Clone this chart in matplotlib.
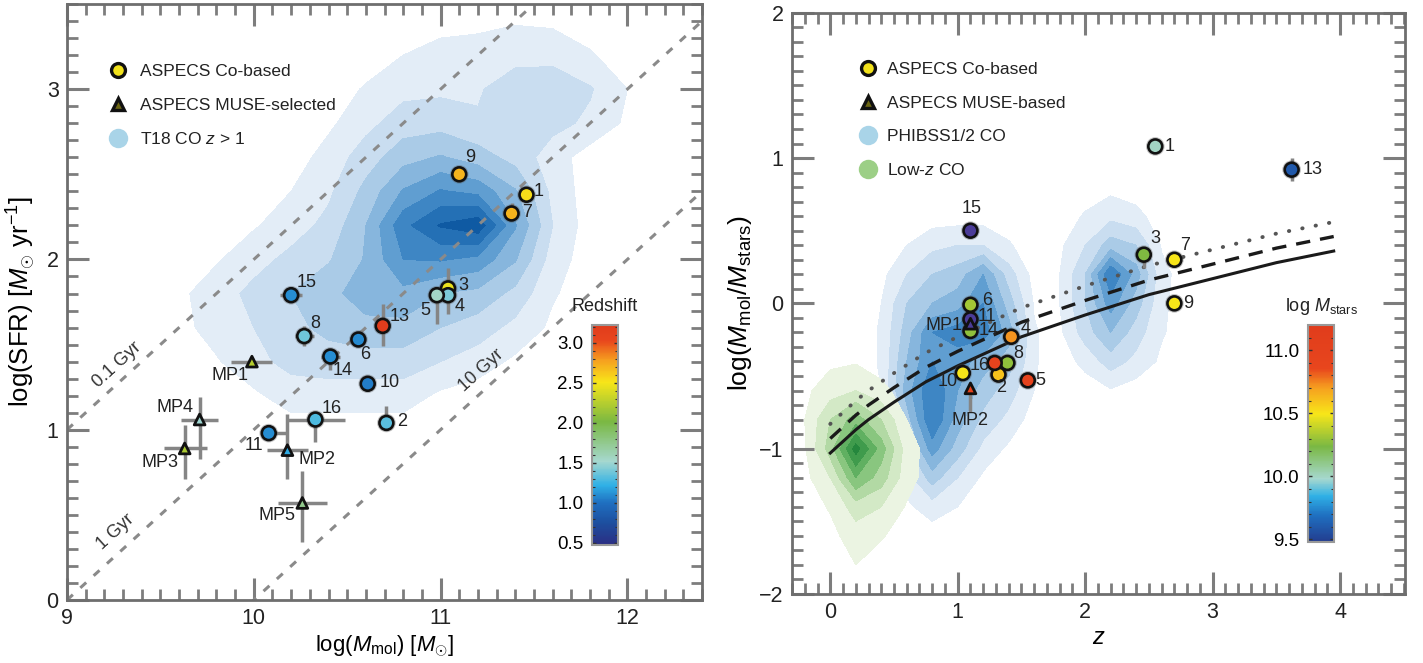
import numpy as np
import matplotlib
matplotlib.use("Agg")
import matplotlib.pyplot as plt
import matplotlib.ticker as mticker
from matplotlib.colors import LinearSegmentedColormap
from matplotlib.lines import Line2D
from matplotlib.cm import ScalarMappable
from matplotlib.colors import Normalize

plt.rcParams['font.family'] = ['Liberation Sans', 'DejaVu Sans']
plt.rcParams['mathtext.fontset'] = 'custom'
plt.rcParams['mathtext.rm'] = 'Liberation Sans'
plt.rcParams['mathtext.it'] = 'Liberation Sans:italic'
plt.rcParams['mathtext.bf'] = 'Liberation Sans:bold'
plt.rcParams['text.color'] = '#222222'

# ---------------- DATA: left panel ----------------
co_ids = ['1', '2', '3', '4', '5', '6', '7', '8', '9', '10', '11', '13', '14', '15', '16']
co_logmmol = [11.46, 10.71, 11.04, 11.04, 10.98, 10.56, 11.38, 10.27, 11.10, 10.61, 10.08, 10.69, 10.41, 10.20, 10.33]
co_logsfr = [2.38, 1.04, 1.83, 1.79, 1.79, 1.53, 2.27, 1.55, 2.50, 1.27, 0.98, 1.61, 1.43, 1.79, 1.06]
co_mmol_err_lo = [0, 0, 0, 0, 0, 0.02, 0, 0.05, 0, 0, 0, 0, 0.05, 0.06, 0.16]
co_mmol_err_hi = [0, 0, 0, 0, 0, 0.02, 0, 0.05, 0, 0, 0.10, 0, 0.05, 0.06, 0.16]
co_sfr_err_lo = [0.03, 0.03, 0.04, 0.11, 0.17, 0.02, 0.03, 0.06, 0, 0, 0.02, 0.12, 0.08, 0.03, 0.13]
co_sfr_err_hi = [0.03, 0.10, 0.12, 0.03, 0.03, 0.02, 0.06, 0.06, 0, 0, 0.02, 0.13, 0.03, 0.03, 0.03]
co_redshift = [2.54, 1.32, 2.45, 1.41, 1.55, 1.09, 2.70, 1.38, 2.70, 1.04, 1.10, 3.60, 1.10, 1.10, 1.29]
co_label_offset_L = [(9, 2), (11, 1), (11, 2), (8, -8), (-8, -11), (5, -11), (11, 1), (8, 9), (8, 12),
                     (16, 1), (-11, -9), (12, 7), (9, -10), (11, 9), (12, 8)]

mp_ids = ['MP1', 'MP2', 'MP3', 'MP4', 'MP5']
mp_logmmol = [9.99, 10.18, 9.63, 9.71, 10.26]
mp_logsfr = [1.40, 0.88, 0.89, 1.06, 0.57]
mp_mmol_err_lo = [0.11, 0.11, 0.11, 0.10, 0.13]
mp_mmol_err_hi = [0.11, 0.11, 0.12, 0.10, 0.13]
mp_sfr_err_lo = [0.02, 0.17, 0.18, 0.23, 0.23]
mp_sfr_err_hi = [0.02, 0.21, 0.14, 0.13, 0.19]
mp_redshift = [2.25, 1.20, 2.20, 1.50, 1.75]
mp_label_offset_L = [(-16, -10), (21, -7), (-18, -10), (-18, 9), (-18, -9)]

age_log_yr = [8, 9, 10]
age_labels = ['0.1 Gyr', '1 Gyr', '10 Gyr']
age_label_pos = [(9.27, 1.38), (9.26, 0.40), (11.22, 1.35)]

# T18 CO z>1 density (coarse grid)
t18_x = [9.4, 9.6, 9.8, 10.0, 10.2, 10.4, 10.6, 10.8, 11.0, 11.2, 11.4, 11.6, 11.8, 12.0, 12.2]
t18_y = [0.8, 1.0, 1.2, 1.4, 1.6, 1.8, 2.0, 2.2, 2.4, 2.6, 2.8, 3.0, 3.2, 3.4, 3.6]
t18_density = [
    [0, 0, 0, 0, 0, 0, 0, 0, 0, 0, 0, 0, 0, 0, 0],
    [0, 0, 0, 0, 0, 0, 0, 0, 0, 0, 0, 0, 0, 0, 0],
    [0, 0, 0, 0.3, 1.0, 1.0, 1.0, 1.0, 0.3, 0, 0, 0, 0, 0, 0],
    [0, 0, 0.4, 1.2, 1.8, 2.0, 2.0, 2.0, 1.5, 1.0, 0.3, 0, 0, 0, 0],
    [0, 0.2, 0.9, 1.5, 2.2, 2.8, 3.2, 3.2, 2.5, 2.0, 1.2, 0.3, 0, 0, 0],
    [0, 0.3, 1.0, 1.8, 2.5, 3.2, 4.0, 4.2, 3.5, 3.2, 2.2, 0.6, 0, 0, 0],
    [0, 0, 0.4, 1.1, 1.8, 2.4, 3.6, 5.5, 5.6, 5.2, 3.6, 1.0, 0, 0, 0],
    [0, 0, 0, 0.4, 1.0, 1.8, 3.5, 6.2, 7.6, 8.2, 4.6, 1.5, 0, 0, 0],
    [0, 0, 0, 0, 0.5, 1.3, 2.8, 4.6, 5.6, 5.2, 3.6, 1.2, 0, 0, 0],
    [0, 0, 0, 0, 0, 0.9, 2.0, 3.1, 3.6, 3.0, 2.1, 1.0, 0, 0, 0],
    [0, 0, 0, 0, 0, 0.3, 1.2, 2.0, 2.1, 1.6, 1.6, 1.8, 1.3, 0.3, 0],
    [0, 0, 0, 0, 0, 0, 0.6, 1.2, 1.3, 1.4, 2.0, 2.1, 1.6, 0.5, 0],
    [0, 0, 0, 0, 0, 0, 0, 0.5, 1.0, 1.0, 1.2, 1.2, 0.6, 0, 0],
    [0, 0, 0, 0, 0, 0, 0, 0, 0, 0.2, 0.4, 0.3, 0, 0, 0],
    [0, 0, 0, 0, 0, 0, 0, 0, 0, 0, 0, 0, 0, 0, 0],
]

# ---------------- DATA: right panel ----------------
co_z = [2.55, 1.32, 2.46, 1.42, 1.55, 1.10, 2.70, 1.39, 2.70, 1.04, 1.10, 3.62, 1.10, 1.10, 1.29]
co_logratio = [1.08, -0.49, 0.335, -0.23, -0.53, -0.01, 0.30, -0.41, 0.00, -0.48, -0.11, 0.92, -0.19, 0.50, -0.41]
co_ratio_err_lo = [0.04, 0.02, 0.09, 0.03, 0.02, 0.02, 0.03, 0.02, 0.02, 0.02, 0.02, 0.08, 0.02, 0.03, 0.02]
co_ratio_err_hi = [0.04, 0.02, 0.02, 0.03, 0.02, 0.02, 0.03, 0.02, 0.02, 0.02, 0.02, 0.08, 0.02, 0.03, 0.02]
co_logmstar = [10.0, 10.6, 10.25, 10.72, 10.95, 10.32, 10.5, 10.28, 10.5, 10.5, 9.3, 9.6, 10.28, 9.3, 10.95]
co_label_offset_R = [(10, 0), (2, -9), (8, 12), (10, 6), (9, 0), (12, 3), (8, 10), (8, 7), (10, 0),
                     (-11, -6), (12, 2), (15, 0), (13, 0), (1, 16), (-11, -2)]

mpR_ids = ['MP1', 'MP2']
mpR_z = [1.10, 1.10]
mpR_logratio = [-0.14, -0.585]
mpR_err_lo = [0.02, 0.16]
mpR_err_hi = [0.02, 0.0]
mpR_logmstar = [9.3, 10.95]
mpR_label_offset = [(-19, -1), (0, -23)]

# scaling-relation curves
curve_z = [0, 0.1, 0.2, 0.3, 0.5, 0.75, 1.0, 1.25, 1.5, 2.0, 2.5, 3.0, 3.5, 3.95]
curve_solid = [-1.03, -0.95, -0.87, -0.80, -0.68, -0.54, -0.43, -0.33, -0.23, -0.08, 0.06, 0.17, 0.28, 0.36]
curve_dashed = [-0.93, -0.85, -0.77, -0.70, -0.58, -0.44, -0.33, -0.23, -0.13, 0.02, 0.16, 0.27, 0.38, 0.46]
curve_dotted = [-0.83, -0.75, -0.67, -0.60, -0.48, -0.34, -0.23, -0.13, -0.03, 0.12, 0.26, 0.37, 0.48, 0.56]

# PHIBSS density, z~1 lobe
ph1_z = [0.2, 0.4, 0.6, 0.8, 1.0, 1.2, 1.4, 1.6, 1.8]
ph1_y = [-1.6, -1.4, -1.2, -1.0, -0.8, -0.6, -0.4, -0.2, 0.0, 0.2, 0.4, 0.6]
ph1_density = [
    [0, 0, 0, 0, 0, 0, 0, 0, 0],
    [0, 0, 0.3, 1.0, 0.5, 0, 0, 0, 0],
    [0, 0, 1.0, 3.0, 1.5, 0.3, 0, 0, 0],
    [0, 0, 2.0, 5.0, 3.0, 1.2, 0.3, 0, 0],
    [0, 0.2, 3.0, 6.5, 4.0, 2.2, 1.2, 0, 0],
    [0, 0.5, 4.0, 6.5, 4.5, 3.0, 2.0, 0.5, 0],
    [0, 0.6, 3.5, 5.5, 5.0, 4.0, 3.0, 0.6, 0],
    [0, 0.6, 3.0, 5.5, 6.0, 6.0, 4.0, 0.6, 0],
    [0, 0.5, 2.5, 3.5, 4.0, 5.5, 3.0, 0.4, 0],
    [0, 0.2, 1.5, 2.5, 3.0, 4.5, 2.0, 0.1, 0],
    [0, 0, 0.5, 1.2, 1.5, 1.5, 0.6, 0, 0],
    [0, 0, 0, 0, 0, 0, 0, 0, 0],
]
# PHIBSS density, z~2.2 lobe
ph2_z = [1.6, 1.8, 2.0, 2.2, 2.4, 2.6, 2.8]
ph2_y = [-0.8, -0.6, -0.4, -0.2, 0.0, 0.2, 0.4, 0.6, 0.8, 1.0]
ph2_density = [
    [0, 0, 0, 0, 0, 0, 0],
    [0, 0, 0, 0.4, 0, 0, 0],
    [0, 0, 0.8, 2.0, 1.2, 0.3, 0],
    [0, 0.3, 2.0, 3.5, 2.0, 0.6, 0],
    [0, 0.5, 2.5, 5.0, 3.0, 0.7, 0],
    [0, 0.5, 2.5, 6.5, 4.0, 0.8, 0],
    [0, 0.3, 1.5, 3.0, 2.5, 0.4, 0],
    [0, 0, 0.6, 1.2, 0.8, 0, 0],
    [0, 0, 0, 0.2, 0, 0, 0],
    [0, 0, 0, 0, 0, 0, 0],
]
# Low-z CO density
lowz_z = [-0.4, -0.2, 0.0, 0.2, 0.4, 0.6, 0.8]
lowz_y = [-2.0, -1.8, -1.6, -1.4, -1.2, -1.0, -0.8, -0.6, -0.4, -0.2]
lowz_density = [
    [0, 0, 0, 0, 0, 0, 0],
    [0, 0, 0, 0.5, 0, 0, 0],
    [0, 0, 0.2, 1.0, 0.6, 0, 0],
    [0, 0, 0.6, 2.0, 1.5, 0.4, 0],
    [0, 0.2, 1.5, 4.5, 3.0, 0.9, 0],
    [0, 0.4, 3.0, 7.0, 4.0, 1.0, 0],
    [0, 0.5, 2.5, 4.0, 2.5, 0.5, 0],
    [0, 0.3, 1.0, 1.5, 0.8, 0, 0],
    [0, 0, 0.3, 0.4, 0, 0, 0],
    [0, 0, 0, 0, 0, 0, 0],
]

# ---------------- STYLE ----------------
blue_levels = ['#e3edf7', '#c9ddf0', '#aacbe7', '#87b6dd', '#609ed1', '#3e86c4', '#2470b5', '#0f5aa3']
green_levels = ['#ebf4e2', '#d3e9c6', '#b2d9a4', '#89c67f', '#60b061', '#3f9b4c', '#25873d', '#137536']
levels = np.arange(0.5, 9.0, 1.0)

cmapL = LinearSegmentedColormap.from_list('zL', [
    (0.0, '#2b2e83'), (0.10, '#1d4f9f'), (0.19, '#1f6fc0'), (0.27, '#2fb0e6'), (0.38, '#a6d8cf'),
    (0.56, '#7ab843'), (0.74, '#f7e619'), (0.84, '#f6a01f'), (0.93, '#e8461d'), (1.0, '#e03c1c')])
cmapR = LinearSegmentedColormap.from_list('mR', [
    (0.0, '#233d8f'), (0.12, '#1f6fc0'), (0.21, '#2fb0e6'), (0.29, '#a6d8cf'), (0.44, '#7ab843'),
    (0.59, '#f7e619'), (0.71, '#f6a01f'), (0.80, '#e8461d'), (1.0, '#e03c1c')])
cmapR.set_under('#4b3c98')
normL = Normalize(0.47, 3.22)
normR = Normalize(9.48, 11.2)

TICK_C = '#7d7d7d'
ERR_C = '#858585'


def style_axes(ax, xmin_step, ymin_step):
    ax.xaxis.set_major_locator(mticker.MultipleLocator(1))
    ax.xaxis.set_minor_locator(mticker.MultipleLocator(xmin_step))
    ax.yaxis.set_major_locator(mticker.MultipleLocator(1))
    ax.yaxis.set_minor_locator(mticker.MultipleLocator(ymin_step))
    ax.tick_params(which='both', direction='in', top=True, right=True, color=TICK_C,
                   labelcolor='#222222', labelsize=15.5)
    ax.tick_params(which='major', length=16, width=2.2, pad=6)
    ax.tick_params(which='minor', length=8, width=2.0)
    for sp in ax.spines.values():
        sp.set_color('#6e6e6e')
        sp.set_linewidth(2)


fig = plt.figure(figsize=(14.23, 6.63), dpi=100)
axL = fig.add_axes([0.04708, 0.0950, 0.4463, 0.8989])
axR = fig.add_axes([0.5566, 0.1041, 0.4308, 0.8767])

# ================= LEFT PANEL =================
axL.set_xlim(9, 12.4)
axL.set_ylim(0, 3.5)
style_axes(axL, 0.1, 0.1)

XL, YL = np.meshgrid(t18_x, t18_y)
axL.contourf(XL, YL, np.array(t18_density), levels=levels, colors=blue_levels, zorder=1)

xx = np.array([9.0, 12.4])
for age in age_log_yr:
    axL.plot(xx, xx - age, color='#8a8a8a', lw=2.2, dashes=(2.6, 3.3), zorder=2)
fig.canvas.draw()
p0 = axL.transData.transform((10, 0))
p1 = axL.transData.transform((11, 1))
ang = np.degrees(np.arctan2(p1[1] - p0[1], p1[0] - p0[0]))
for lab, (tx, ty) in zip(age_labels, age_label_pos):
    axL.text(tx, ty, lab, rotation=ang, rotation_mode='anchor', ha='center', va='center',
             fontsize=13, color='#333333', zorder=5)

axL.errorbar(co_logmmol, co_logsfr, xerr=[co_mmol_err_lo, co_mmol_err_hi],
             yerr=[co_sfr_err_lo, co_sfr_err_hi], fmt='none', ecolor=ERR_C, elinewidth=2.5,
             capsize=0, zorder=3)
axL.errorbar(mp_logmmol, mp_logsfr, xerr=[mp_mmol_err_lo, mp_mmol_err_hi],
             yerr=[mp_sfr_err_lo, mp_sfr_err_hi], fmt='none', ecolor=ERR_C, elinewidth=2.5,
             capsize=0, zorder=3)
axL.scatter(co_logmmol, co_logsfr, s=180, c='#555555', alpha=0.35, edgecolors='none', zorder=3.5)
axL.scatter(co_logmmol, co_logsfr, s=100, c=co_redshift, cmap=cmapL, norm=normL,
            edgecolors='#111111', linewidths=1.9, zorder=4)
axL.scatter(mp_logmmol, mp_logsfr, s=60, c=mp_redshift, cmap=cmapL, norm=normL, marker='^',
            edgecolors='#111111', linewidths=2.0, zorder=4)
for lab, x, y, off in zip(co_ids, co_logmmol, co_logsfr, co_label_offset_L):
    axL.annotate(lab, (x, y), xytext=off, textcoords='offset points', ha='center', va='center',
                 fontsize=13, zorder=5)
for lab, x, y, off in zip(mp_ids, mp_logmmol, mp_logsfr, mp_label_offset_L):
    axL.annotate(lab, (x, y), xytext=off, textcoords='offset points', ha='center', va='center',
                 fontsize=13, zorder=5)

axL.set_xlabel(r'log($M_{\rm mol}$) [$M_{\odot}$]', fontsize=16, labelpad=3)
axL.set_ylabel(r'log(SFR) [$M_{\odot}$ yr$^{-1}$]', fontsize=18.5, labelpad=6)

hL = [Line2D([], [], marker='o', ls='none', markerfacecolor='#f2e21b', markeredgecolor='#111111',
             markeredgewidth=2.4, markersize=10),
      Line2D([], [], marker='^', ls='none', markerfacecolor='#6b6512', markeredgecolor='#111111',
             markeredgewidth=2.4, markersize=9),
      Line2D([], [], marker='o', ls='none', markerfacecolor='#a9d4e8', markeredgecolor='none',
             markersize=14)]
axL.legend(hL, ['ASPECS Co-based', 'ASPECS MUSE-selected', r'T18 CO $z$ > 1'], loc='upper left',
           bbox_to_anchor=(0.066, 0.899), frameon=False, fontsize=12.5, handlelength=1.0,
           handletextpad=0.8, labelspacing=1.05, borderpad=0, borderaxespad=0)

caxL = fig.add_axes([592 / 1423, 1 - 545 / 663, 26 / 1423, 220 / 663])
cbL = fig.colorbar(ScalarMappable(norm=normL, cmap=cmapL), cax=caxL)
cbL.set_ticks([0.5, 1.0, 1.5, 2.0, 2.5, 3.0])
cbL.ax.yaxis.set_major_formatter(mticker.FormatStrFormatter('%.1f'))
cbL.ax.yaxis.set_minor_locator(mticker.MultipleLocator(0.1))
cbL.ax.tick_params(which='both', direction='in', left=True, right=True, labelleft=True,
                   labelright=False, color='#333333', labelsize=13.5, pad=6)
cbL.ax.tick_params(which='major', length=3, width=1)
cbL.ax.tick_params(which='minor', length=2, width=0.8)
cbL.outline.set_edgecolor('#999999')
cbL.outline.set_linewidth(1.5)
cbL.ax.set_title('Redshift', fontsize=13, pad=10)

# ================= RIGHT PANEL =================
axR.set_xlim(-0.3, 4.51)
axR.set_ylim(-2, 2)
style_axes(axR, 0.1, 0.1)

Z1, Y1 = np.meshgrid(ph1_z, ph1_y)
axR.contourf(Z1, Y1, np.array(ph1_density), levels=levels, colors=blue_levels, zorder=1)
Z2, Y2 = np.meshgrid(ph2_z, ph2_y)
axR.contourf(Z2, Y2, np.array(ph2_density), levels=levels, colors=blue_levels, zorder=1)
Z3, Y3 = np.meshgrid(lowz_z, lowz_y)
axR.contourf(Z3, Y3, np.array(lowz_density), levels=levels, colors=green_levels, zorder=1)

axR.plot(curve_z, curve_solid, color='#1a1a1a', lw=2.2, zorder=2)
axR.plot(curve_z, curve_dashed, color='#1a1a1a', lw=2.4, dashes=(4.3, 3.0), zorder=2)
axR.plot(curve_z, curve_dotted, color='#555555', lw=2.8, dashes=(0.1, 3.4),
         dash_capstyle='round', zorder=2)

axR.errorbar(co_z, co_logratio, yerr=[co_ratio_err_lo, co_ratio_err_hi], fmt='none', ecolor=ERR_C,
             elinewidth=2.5, capsize=0, zorder=3)
axR.errorbar(mpR_z, mpR_logratio, yerr=[mpR_err_lo, mpR_err_hi], fmt='none', ecolor=ERR_C,
             elinewidth=2.5, capsize=0, zorder=3)
axR.scatter(co_z, co_logratio, s=180, c='#555555', alpha=0.35, edgecolors='none', zorder=3.5)
axR.scatter(co_z, co_logratio, s=100, c=co_logmstar, cmap=cmapR, norm=normR,
            edgecolors='#111111', linewidths=1.9, zorder=4)
axR.scatter(mpR_z, mpR_logratio, s=60, c=mpR_logmstar, cmap=cmapR, norm=normR, marker='^',
            edgecolors='#111111', linewidths=2.0, zorder=4)
for lab, x, y, off in zip(co_ids, co_z, co_logratio, co_label_offset_R):
    axR.annotate(lab, (x, y), xytext=off, textcoords='offset points', ha='center', va='center',
                 fontsize=13, zorder=5)
for lab, x, y, off in zip(mpR_ids, mpR_z, mpR_logratio, mpR_label_offset):
    axR.annotate(lab, (x, y), xytext=off, textcoords='offset points', ha='center', va='center',
                 fontsize=13, zorder=5)

axR.set_xlabel(r'$z$', fontsize=17, labelpad=3)
axR.set_ylabel(r'log($M_{\rm mol}$/$M_{\rm stars}$)', fontsize=19, labelpad=4)

hR = [Line2D([], [], marker='o', ls='none', markerfacecolor='#f2e21b', markeredgecolor='#111111',
             markeredgewidth=2.4, markersize=10),
      Line2D([], [], marker='^', ls='none', markerfacecolor='#6b6512', markeredgecolor='#111111',
             markeredgewidth=2.4, markersize=9),
      Line2D([], [], marker='o', ls='none', markerfacecolor='#a9d4e8', markeredgecolor='none',
             markersize=14),
      Line2D([], [], marker='o', ls='none', markerfacecolor='#9ccf86', markeredgecolor='none',
             markersize=14)]
axR.legend(hR, ['ASPECS Co-based', 'ASPECS MUSE-based', 'PHIBSS1/2 CO', r'Low-$z$ CO'],
           loc='upper left', bbox_to_anchor=(0.109, 0.915), frameon=False, fontsize=12.5,
           handlelength=1.0, handletextpad=0.6, labelspacing=1.05, borderpad=0, borderaxespad=0)

caxR = fig.add_axes([1308 / 1423, 1 - 542 / 663, 26 / 1423, 217 / 663])
cbR = fig.colorbar(ScalarMappable(norm=normR, cmap=cmapR), cax=caxR)
cbR.set_ticks([9.5, 10.0, 10.5, 11.0])
cbR.ax.yaxis.set_major_formatter(mticker.FormatStrFormatter('%.1f'))
cbR.ax.yaxis.set_minor_locator(mticker.MultipleLocator(0.1))
cbR.ax.tick_params(which='both', direction='in', left=True, right=True, labelleft=True,
                   labelright=False, color='#333333', labelsize=13.5, pad=6)
cbR.ax.tick_params(which='major', length=3, width=1)
cbR.ax.tick_params(which='minor', length=2, width=0.8)
cbR.outline.set_edgecolor('#999999')
cbR.outline.set_linewidth(1.5)
cbR.ax.set_title(r'log $M_{\rm stars}$', fontsize=13, pad=10)

fig.savefig('out.png', dpi=100)
